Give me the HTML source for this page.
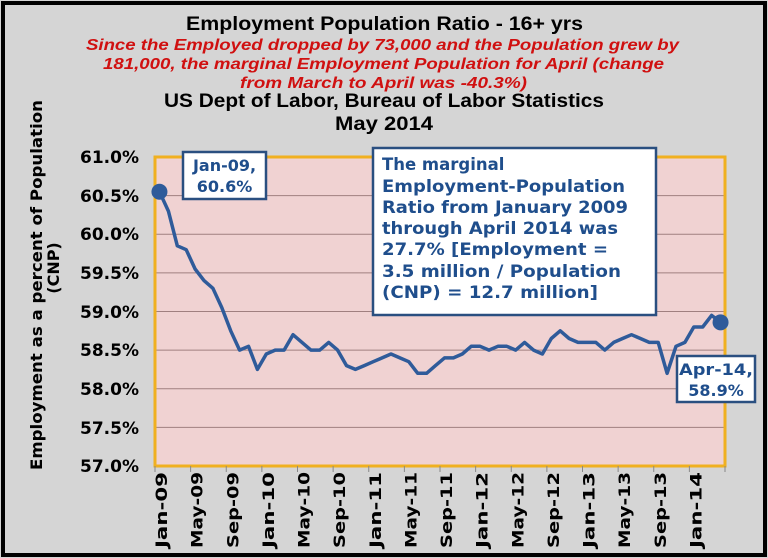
<!DOCTYPE html>
<html><head><meta charset="utf-8"><style>
html,body{margin:0;padding:0;background:#d5d5d5;}
svg{display:block;font-family:"DejaVu Sans","Liberation Sans",sans-serif;}
.lib{font-family:"Liberation Sans",sans-serif;}
</style></head><body>
<svg width="768" height="558" viewBox="0 0 768 558" xmlns="http://www.w3.org/2000/svg">
<rect x="0" y="0" width="768" height="558" fill="#d5d5d5"/>
<rect x="3" y="3" width="762" height="552" fill="none" stroke="#000" stroke-width="4"/>
<g text-anchor="start" font-weight="bold" class="lib">
<text x="186" y="30" font-size="19" fill="#000" textLength="397" lengthAdjust="spacingAndGlyphs">Employment Population Ratio - 16+ yrs</text>
<text x="86" y="50" font-size="16" fill="#d01010" font-style="italic" textLength="593" lengthAdjust="spacingAndGlyphs">Since the Employed dropped by 73,000 and the Population grew by</text>
<text x="103" y="69" font-size="16" fill="#d01010" font-style="italic" textLength="561" lengthAdjust="spacingAndGlyphs">181,000, the marginal Employment Population for April (change</text>
<text x="240" y="88" font-size="16" fill="#d01010" font-style="italic" textLength="287" lengthAdjust="spacingAndGlyphs">from March to April was -40.3%)</text>
<text x="164" y="107" font-size="19" fill="#000" textLength="440" lengthAdjust="spacingAndGlyphs">US Dept of Labor, Bureau of Labor Statistics</text>
<text x="335" y="130" font-size="19" fill="#000" textLength="98" lengthAdjust="spacingAndGlyphs">May 2014</text>
</g>
<rect x="155" y="157" width="570" height="309" fill="#f0d2d2"/>
<g stroke="#a08080" stroke-width="1">
<line x1="155" y1="195.6" x2="725" y2="195.6"/><line x1="155" y1="234.3" x2="725" y2="234.3"/>
<line x1="155" y1="272.9" x2="725" y2="272.9"/><line x1="155" y1="311.5" x2="725" y2="311.5"/>
<line x1="155" y1="350.1" x2="725" y2="350.1"/><line x1="155" y1="388.8" x2="725" y2="388.8"/>
<line x1="155" y1="427.4" x2="725" y2="427.4"/>
</g>
<rect x="155" y="157" width="570" height="309" fill="none" stroke="#f0b020" stroke-width="3"/>
<g font-size="17" font-weight="bold" text-anchor="end" fill="#000">
<text x="139" y="163">61.0%</text><text x="139" y="202">60.5%</text><text x="139" y="240">60.0%</text>
<text x="139" y="279">59.5%</text><text x="139" y="318">59.0%</text><text x="139" y="356">58.5%</text>
<text x="139" y="395">58.0%</text><text x="139" y="434">57.5%</text><text x="139" y="472">57.0%</text>
</g>
<g font-size="16" font-weight="bold" text-anchor="middle" fill="#000">
<text transform="translate(42,285) rotate(-90)" textLength="370" lengthAdjust="spacingAndGlyphs">Employment as a percent of Population</text>
<text transform="translate(59,268) rotate(-90)">(CNP)</text>
</g>
<g id="ticks" stroke="#888" stroke-width="1"></g>
<g id="xl" font-size="16" font-weight="bold" fill="#000"></g>
<polyline id="ln" fill="none" stroke="#2f5b9a" stroke-width="3.5" stroke-linejoin="round"/>
<circle id="d1" r="8" fill="#2f5b9a"/><circle id="d2" r="8" fill="#2f5b9a"/>
<g font-size="16" font-weight="bold" fill="#1f4e8c">
<rect x="183" y="152" width="83" height="47" fill="#fff" stroke="#2a4f80" stroke-width="2.5"/>
<text x="224.5" y="171" text-anchor="middle">Jan-09,</text><text x="224.5" y="192" text-anchor="middle">60.6%</text>
<rect x="677" y="356" width="78" height="46" fill="#fff" stroke="#2a4f80" stroke-width="2.5"/>
<text x="716" y="375" text-anchor="middle" textLength="74" lengthAdjust="spacingAndGlyphs">Apr-14,</text><text x="716" y="396" text-anchor="middle">58.9%</text>
<rect x="373" y="148" width="283" height="167" fill="#fff" stroke="#2a4f80" stroke-width="2.5"/>
<g font-size="16.5">
<text x="382" y="170">The marginal</text>
<text x="382" y="192" textLength="243" lengthAdjust="spacingAndGlyphs">Employment-Population</text>
<text x="382" y="213" textLength="246" lengthAdjust="spacingAndGlyphs">Ratio from January 2009</text>
<text x="382" y="234" textLength="236" lengthAdjust="spacingAndGlyphs">through April 2014 was</text>
<text x="382" y="255" textLength="226" lengthAdjust="spacingAndGlyphs">27.7% [Employment =</text>
<text x="382" y="277" textLength="239" lengthAdjust="spacingAndGlyphs">3.5 million / Population</text>
<text x="382" y="298" textLength="216" lengthAdjust="spacingAndGlyphs">(CNP) = 12.7 million]</text>
</g></g>
<script>
var v=[60.55,60.3,59.85,59.8,59.55,59.4,59.3,59.05,58.75,58.5,58.55,58.25,
58.45,58.5,58.5,58.7,58.6,58.5,58.5,58.6,58.5,58.3,58.25,58.3,
58.35,58.4,58.45,58.4,58.35,58.2,58.2,58.3,58.4,58.4,58.45,58.55,
58.55,58.5,58.55,58.55,58.5,58.6,58.5,58.45,58.65,58.75,58.65,58.6,
58.6,58.6,58.5,58.6,58.65,58.7,58.65,58.6,58.6,58.2,58.55,58.6,
58.8,58.8,58.95,58.86];
var w=570/64,pts=[];
function X(i){return 155+w*(i+0.5);} function Y(a){return 157+(61-a)*77.25;}
for(var i=0;i<64;i++)pts.push(X(i).toFixed(1)+","+Y(v[i]).toFixed(1));
var ln=document.getElementById("ln");ln.setAttribute("points",pts.join(" "));
var d1=document.getElementById("d1");d1.setAttribute("cx",X(0));d1.setAttribute("cy",Y(v[0]));
var d2=document.getElementById("d2");d2.setAttribute("cx",X(63));d2.setAttribute("cy",Y(v[63]));
var ns="http://www.w3.org/2000/svg",tk=document.getElementById("ticks"),xl=document.getElementById("xl");
var m=["Jan","May","Sep"];
for(var k=0;k<=16;k++){var x=155+35.625*k;var l=document.createElementNS(ns,"line");
l.setAttribute("x1",x);l.setAttribute("x2",x);l.setAttribute("y1",466);l.setAttribute("y2",472);tk.appendChild(l);
if(k<16){var yr=9+Math.floor(k/3);var t=document.createElementNS(ns,"text");
t.setAttribute("transform","translate("+(x+12)+",548) rotate(-90)");
t.setAttribute("textLength","76");t.setAttribute("lengthAdjust","spacingAndGlyphs");
t.textContent=m[k%3]+"-"+(yr<10?"0"+yr:yr);xl.appendChild(t);}}
</script>
</svg>
</body></html>
